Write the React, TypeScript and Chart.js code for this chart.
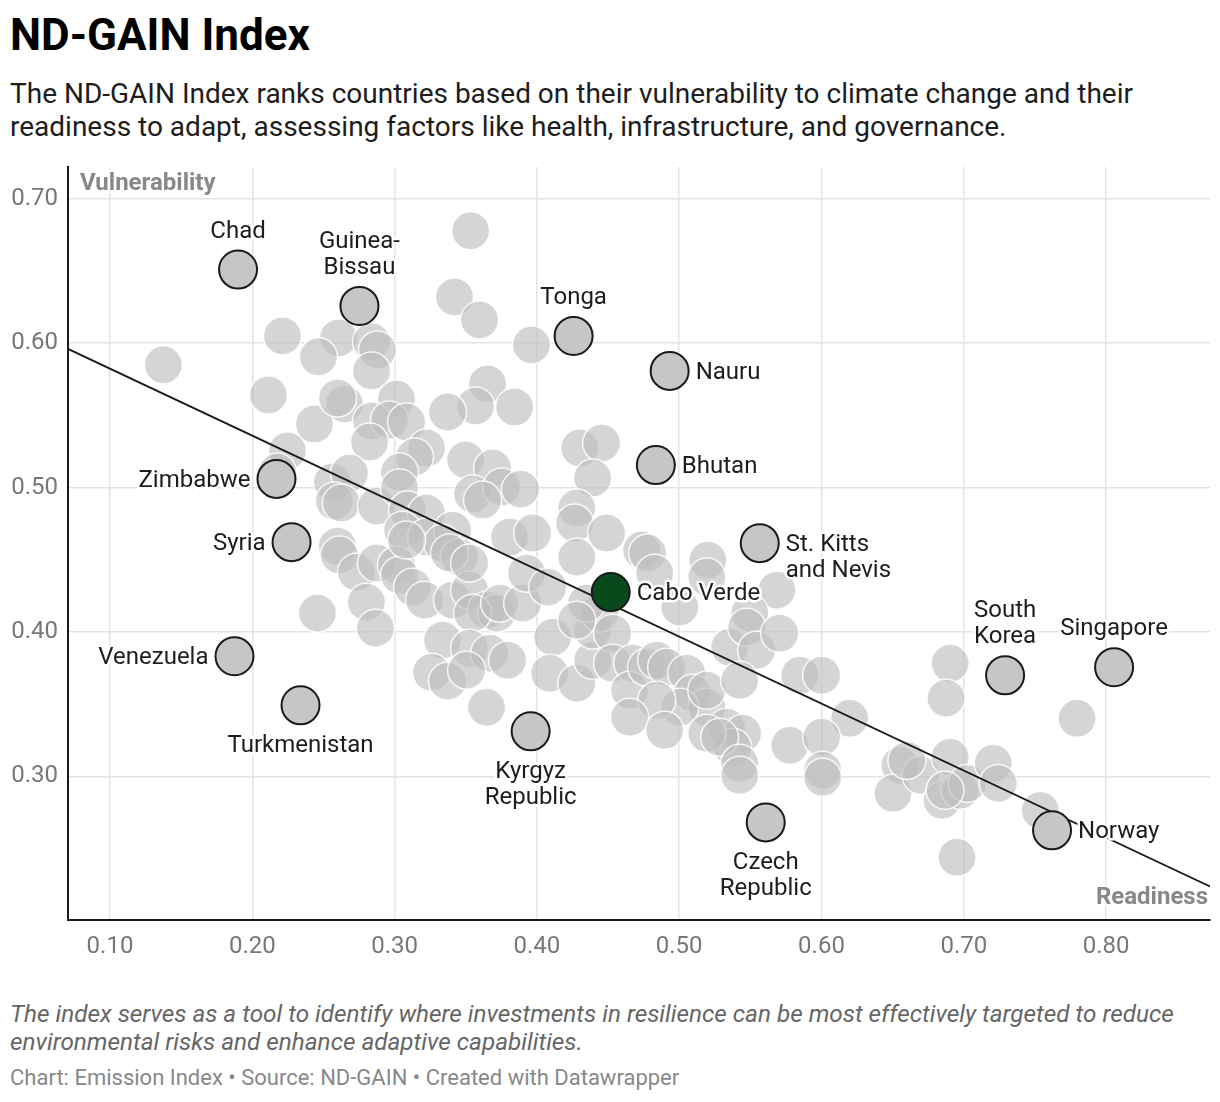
import { useEffect, useRef } from "react";
import { Chart, registerables } from "chart.js";

Chart.register(...registerables);

const FONT = "Roboto, 'Noto Sans', sans-serif";

// every other country: [readiness, vulnerability]
const otherCountries: [number, number][] = [
    [0.1375, 0.585], [0.2212, 0.605], [0.2606, 0.6036], [0.2465, 0.5905], [0.2838, 0.6009],
    [0.288, 0.5953], [0.2838, 0.5808], [0.2113, 0.5641], [0.2648, 0.5579], [0.3013, 0.5613],
    [0.2437, 0.544], [0.3421, 0.632], [0.3534, 0.6778], [0.3597, 0.6161], [0.3962, 0.5988],
    [0.3653, 0.5717], [0.3843, 0.5558], [0.3569, 0.5565], [0.3372, 0.5523], [0.2599, 0.562],
    [0.2838, 0.5461], [0.2964, 0.5468], [0.3084, 0.5454], [0.2824, 0.5315], [0.3224, 0.5274],
    [0.314, 0.5211], [0.3034, 0.5107], [0.2247, 0.5253], [0.2177, 0.5107], [0.2563, 0.5038],
    [0.2683, 0.51], [0.2577, 0.4906], [0.2626, 0.4893], [0.2873, 0.4872], [0.3034, 0.4997],
    [0.3091, 0.4844], [0.3224, 0.4823], [0.3056, 0.4705], [0.3224, 0.4657], [0.3407, 0.4705],
    [0.3337, 0.4615], [0.3456, 0.4518], [0.3386, 0.4546], [0.3499, 0.5191], [0.3689, 0.5135],
    [0.3548, 0.4955], [0.3752, 0.5003], [0.3885, 0.4989], [0.3618, 0.4913], [0.3808, 0.4657],
    [0.397, 0.4685], [0.2598, 0.4594], [0.2612, 0.4532], [0.2732, 0.4414], [0.2873, 0.4477],
    [0.3013, 0.4463], [0.3034, 0.4393], [0.3126, 0.431], [0.3211, 0.422], [0.2802, 0.4206],
    [0.2458, 0.413], [0.2866, 0.4026], [0.3407, 0.422], [0.3527, 0.4289], [0.3646, 0.4151],
    [0.3717, 0.413], [0.3548, 0.413], [0.3738, 0.4199], [0.39, 0.4199], [0.3928, 0.4407],
    [0.4076, 0.431], [0.3084, 0.4636], [0.3527, 0.4477], [0.3337, 0.3943], [0.3527, 0.3887],
    [0.3668, 0.3853], [0.3794, 0.3804], [0.326, 0.3721], [0.3372, 0.3659], [0.3506, 0.3735],
    [0.3646, 0.3478], [0.4301, 0.5274], [0.4455, 0.5308], [0.4392, 0.5066], [0.428, 0.4858],
    [0.4265, 0.4754], [0.449, 0.4685], [0.428, 0.4518], [0.4736, 0.4567], [0.4778, 0.4546],
    [0.4828, 0.4407], [0.5201, 0.4497], [0.5194, 0.438], [0.5686, 0.4289], [0.5496, 0.413],
    [0.5004, 0.4172], [0.4111, 0.3964], [0.409, 0.3714], [0.428, 0.3645], [0.4392, 0.3804],
    [0.4392, 0.4012], [0.4441, 0.413], [0.4349, 0.4199], [0.4532, 0.3991], [0.4532, 0.3783],
    [0.4673, 0.3783], [0.4652, 0.3596], [0.4771, 0.3756], [0.4842, 0.3804], [0.4912, 0.3756],
    [0.5053, 0.3714], [0.5095, 0.3575], [0.5194, 0.3478], [0.5004, 0.3478], [0.4842, 0.3527],
    [0.4652, 0.3409], [0.4898, 0.3319], [0.5194, 0.3596], [0.5333, 0.334], [0.5446, 0.3298],
    [0.5376, 0.3201], [0.5194, 0.3298], [0.5284, 0.327], [0.5425, 0.309], [0.5425, 0.3007],
    [0.5355, 0.3894], [0.5474, 0.4033], [0.5544, 0.3873], [0.5425, 0.3665], [0.5706, 0.3991],
    [0.5847, 0.37], [0.6001, 0.37], [0.6198, 0.3402], [0.5777, 0.3215], [0.6001, 0.327],
    [0.6008, 0.3042], [0.6008, 0.2993], [0.6904, 0.3783], [0.6875, 0.3541], [0.7796, 0.3402],
    [0.6551, 0.3076], [0.6502, 0.2882], [0.6699, 0.3007], [0.6904, 0.3132], [0.6847, 0.2834],
    [0.6974, 0.2903], [0.7024, 0.2951], [0.7207, 0.309], [0.7242, 0.2951], [0.7537, 0.2764],
    [0.6952, 0.2439], [0.66, 0.311], [0.6868, 0.2903], [0.428, 0.4081]
];

const labeledCountries = [
    "Chad", "Guinea-Bissau", "Tonga", "Nauru", "Bhutan", "Zimbabwe", "Syria", "St. Kitts and Nevis",
    "Cabo Verde", "Venezuela", "Turkmenistan", "Kyrgyz Republic", "Czech Republic", "South Korea",
    "Singapore", "Norway"
];
const labeledReadiness = [
    0.19, 0.2753, 0.4258, 0.4933, 0.4836, 0.217, 0.2276, 0.5566,
    0.4519, 0.1875, 0.2339, 0.3956, 0.5608, 0.729, 0.8056, 0.762
];
const labeledVulnerability = [
    0.651, 0.6258, 0.605, 0.5808, 0.5156, 0.506, 0.4622, 0.4615,
    0.4276, 0.3832, 0.3492, 0.3312, 0.2681, 0.37, 0.3756, 0.2626
];
const focusCountry = "Cabo Verde";

const trendReadiness = [0.0705, 0.873];
const trendVulnerability = [0.596, 0.2237];

const readinessTicks = [0.1, 0.2, 0.3, 0.4, 0.5, 0.6, 0.7, 0.8];
const vulnerabilityTicks = [0.3, 0.4, 0.5, 0.6, 0.7];

type Side = "top" | "bottom" | "left" | "right";
// where each annotation sits next to its dot, and how it wraps
const labelLayout: Record<string, { side: Side; lines: string[] }> = {
    "Chad": { side: "top", lines: ["Chad"] },
    "Guinea-Bissau": { side: "top", lines: ["Guinea-", "Bissau"] },
    "Tonga": { side: "top", lines: ["Tonga"] },
    "Nauru": { side: "right", lines: ["Nauru"] },
    "Bhutan": { side: "right", lines: ["Bhutan"] },
    "Zimbabwe": { side: "left", lines: ["Zimbabwe"] },
    "Syria": { side: "left", lines: ["Syria"] },
    "St. Kitts and Nevis": { side: "right", lines: ["St. Kitts", "and Nevis"] },
    "Cabo Verde": { side: "right", lines: ["Cabo Verde"] },
    "Venezuela": { side: "left", lines: ["Venezuela"] },
    "Turkmenistan": { side: "bottom", lines: ["Turkmenistan"] },
    "Kyrgyz Republic": { side: "bottom", lines: ["Kyrgyz", "Republic"] },
    "Czech Republic": { side: "bottom", lines: ["Czech", "Republic"] },
    "South Korea": { side: "top", lines: ["South", "Korea"] },
    "Singapore": { side: "top", lines: ["Singapore"] },
    "Norway": { side: "right", lines: ["Norway"] }
};

const annotationPlugin = {
    id: "annotations",
    afterDatasetsDraw(chart: any) {
        const { ctx, chartArea, scales } = chart;
        const x = scales.x;
        const y = scales.y;
        ctx.save();
        ctx.lineJoin = "round";
        ctx.textBaseline = "alphabetic";

        const halo = (text: string, tx: number, ty: number, color: string) => {
            ctx.strokeStyle = "#fff";
            ctx.lineWidth = 5;
            ctx.strokeText(text, tx, ty);
            ctx.fillStyle = color;
            ctx.fillText(text, tx, ty);
        };

        // axis titles inside the plot
        ctx.font = `bold 24px ${FONT}`;
        ctx.textAlign = "left";
        halo("Vulnerability", chartArea.left + 12, chartArea.top + 23, "#888");
        ctx.textAlign = "right";
        halo("Readiness", chartArea.right - 2, chartArea.bottom - 16, "#888");

        ctx.font = `24px ${FONT}`;
        const lh = 26;
        labeledCountries.forEach((name, i) => {
            const px = x.getPixelForValue(labeledReadiness[i]);
            const py = y.getPixelForValue(labeledVulnerability[i]);
            const { side, lines } = labelLayout[name];
            lines.forEach((line, j) => {
                let tx = px;
                let ty = py;
                if (side === "top") {
                    ctx.textAlign = "center";
                    ty = py - 32 - (lines.length - 1 - j) * lh;
                } else if (side === "bottom") {
                    ctx.textAlign = "center";
                    ty = py + 47 + j * lh;
                } else if (side === "right") {
                    ctx.textAlign = "left";
                    tx = px + 26;
                    ty = py + 8 + j * lh;
                } else {
                    ctx.textAlign = "right";
                    tx = px - 26;
                    ty = py + 8 + j * lh;
                }
                halo(line, tx, ty, "#1d1d1d");
            });
        });
        ctx.restore();
    }
};

function NdGainChart() {
    const canvasRef = useRef<HTMLCanvasElement>(null);

    useEffect(() => {
        const canvas = canvasRef.current;
        if (!canvas) return;

        const chart = new Chart(canvas, {
            type: "scatter",
            data: {
                datasets: [
                    {
                        label: "Labeled",
                        data: labeledCountries.map((_, i) => ({ x: labeledReadiness[i], y: labeledVulnerability[i] })),
                        backgroundColor: labeledCountries.map(n => (n === focusCountry ? "#08491c" : "#c6c6c6")),
                        borderColor: "#1a1a1a",
                        borderWidth: 2,
                        pointRadius: 19,
                        order: 0
                    },
                    {
                        type: "line",
                        label: "Trend",
                        data: trendReadiness.map((r, i) => ({ x: r, y: trendVulnerability[i] })),
                        borderColor: "#1a1a1a",
                        borderWidth: 1.8,
                        pointRadius: 0,
                        fill: false,
                        order: 1
                    },
                    {
                        label: "Other countries",
                        data: otherCountries.map(([r, v]) => ({ x: r, y: v })),
                        backgroundColor: "rgba(190,190,190,0.65)",
                        borderColor: "rgba(255,255,255,0.85)",
                        borderWidth: 1.5,
                        pointRadius: 19,
                        order: 2
                    }
                ]
            },
            options: {
                responsive: true,
                maintainAspectRatio: false,
                animation: false,
                layout: { autoPadding: false, padding: { left: 0, right: 10, top: 17, bottom: 0 } },
                scales: {
                    x: {
                        type: "linear",
                        min: 0.0705,
                        max: 0.873,
                        afterBuildTicks: (scale: any) => {
                            scale.ticks = readinessTicks.map(v => ({ value: v }));
                        },
                        afterFit: (scale: any) => {
                            scale.height = 60;
                            scale.paddingLeft = 0;
                            scale.paddingRight = 0;
                        },
                        grid: { color: "#e3e3e3", lineWidth: 1.5, drawTicks: false },
                        border: { display: true, color: "#1a1a1a", width: 2 },
                        ticks: {
                            color: "#777",
                            font: { family: FONT, size: 24 },
                            padding: 13,
                            callback: (v: any) => Number(v).toFixed(2)
                        }
                    },
                    y: {
                        type: "linear",
                        min: 0.2005,
                        max: 0.722,
                        afterBuildTicks: (scale: any) => {
                            scale.ticks = vulnerabilityTicks.map(v => ({ value: v }));
                        },
                        afterFit: (scale: any) => {
                            scale.width = 68;
                            scale.paddingTop = 0;
                            scale.paddingBottom = 0;
                        },
                        grid: { color: "#e3e3e3", lineWidth: 1.5, drawTicks: false },
                        border: { display: true, color: "#1a1a1a", width: 2 },
                        ticks: {
                            color: "#777",
                            font: { family: FONT, size: 24 },
                            padding: 10,
                            callback: (v: any) => Number(v).toFixed(2)
                        }
                    }
                },
                plugins: {
                    legend: { display: false },
                    tooltip: { enabled: false }
                }
            },
            plugins: [annotationPlugin]
        });

        return () => chart.destroy();
    }, []);

    return (
        <div style={{ position: "absolute", left: 0, top: 150, width: 1220, height: 830 }}>
            <canvas ref={canvasRef} />
        </div>
    );
}

export default function App() {
    return (
        <div style={{ position: "absolute", left: 0, top: 0, width: 1220, height: 1102, background: "#fff", fontFamily: FONT }}>
            <div style={{ position: "absolute", left: 10, top: 9, fontSize: 44, lineHeight: "52px", fontWeight: 700, color: "#000" }}>
                ND-GAIN Index
            </div>
            <div style={{ position: "absolute", left: 10, top: 77, width: 1200, fontSize: 28, lineHeight: "33px", color: "#1d1d1d" }}>
                The ND-GAIN Index ranks countries based on their vulnerability to climate change and their readiness to adapt, assessing factors like health, infrastructure, and governance.
            </div>
            <NdGainChart />
            <div style={{ position: "absolute", left: 10, top: 1000, width: 1200, fontSize: 24.3, lineHeight: "28px", fontStyle: "italic", color: "#666" }}>
                The index serves as a tool to identify where investments in resilience can be most effectively targeted to reduce environmental risks and enhance adaptive capabilities.
            </div>
            <div style={{ position: "absolute", left: 10, top: 1065, fontSize: 22, lineHeight: "26px", color: "#888" }}>
                Chart: Emission Index • Source: ND-GAIN • Created with Datawrapper
            </div>
        </div>
    );
}
